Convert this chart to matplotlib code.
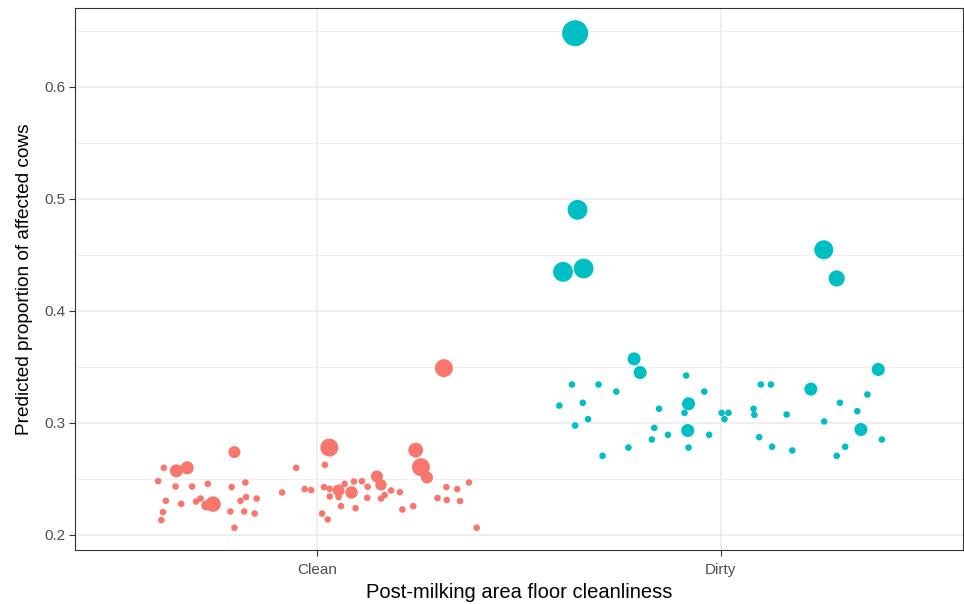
import matplotlib.pyplot as plt
import numpy as np

plt.rcParams["font.family"] = ["Liberation Sans", "DejaVu Sans"]

categories = ["Clean", "Dirty"]
colors = {"Clean": "#F8766D", "Dirty": "#00BFC4"}

# jittered horizontal offset from the category centre, predicted proportion, herd weight
clean_jitter = [-0.205, -0.380, -0.349, -0.322, -0.052, -0.394, -0.351, -0.310, -0.271,
                -0.212, -0.178, -0.375, -0.337, -0.300, -0.289, -0.275, -0.258, -0.190,
                -0.176, -0.150, -0.087, -0.031, -0.015, -0.382, -0.386, -0.215, -0.181,
                -0.155, -0.205,
                0.314, 0.030, 0.019, 0.244, 0.257, 0.272, 0.017, 0.031, 0.053, 0.068,
                0.031, 0.053, 0.091, 0.111, 0.085, 0.125, 0.148, 0.158, 0.183, 0.167,
                0.158, 0.124, 0.205, 0.059, 0.095, 0.012, 0.026, 0.211, 0.238, 0.320,
                0.347, 0.376, 0.298, 0.321, 0.354, 0.395]
clean_prop = [0.2738, 0.2598, 0.2571, 0.2598, 0.2598, 0.2479, 0.2431, 0.2431, 0.2455,
              0.2426, 0.2467, 0.2304, 0.2277, 0.2297, 0.2324, 0.2262, 0.2274, 0.2304,
              0.2337, 0.2324, 0.2378, 0.2408, 0.2399, 0.2203, 0.2131, 0.2208, 0.2208,
              0.2190, 0.2063,
              0.3488, 0.2779, 0.2625, 0.2756, 0.2604, 0.2512, 0.2426, 0.2411, 0.2396,
              0.2455, 0.2342, 0.2337, 0.2476, 0.2479, 0.2378, 0.2429, 0.2521, 0.2446,
              0.2396, 0.2354, 0.2324, 0.2330, 0.2381, 0.2256, 0.2238, 0.2190, 0.2137,
              0.2226, 0.2256, 0.2426, 0.2408, 0.2467, 0.2328, 0.2310, 0.2301, 0.2063]
clean_weight = [3.3, 1, 3.9, 3.9, 1, 1, 1, 1, 1,
                1, 1, 1, 1, 1, 1, 2.3, 5.5, 1,
                1, 1, 1, 1, 1, 1, 1, 1, 1,
                1, 1,
                7.4, 7.4, 1, 5.0, 7.4, 3.3, 1, 1, 3.3, 1,
                1, 1, 1, 1, 3.6, 1, 3.3, 3.0,
                1, 1, 1, 1, 1, 1, 1, 1, 1,
                1, 1, 1, 1, 1, 1, 1, 1, 1]

dirty_jitter = [-0.361, -0.355, -0.391, -0.340, -0.215, -0.200, -0.086, -0.369, -0.303,
                -0.259, -0.041, -0.400, -0.342, -0.080, -0.153, -0.090, 0.002, 0.019,
                0.009, 0.081, 0.083, 0.099, -0.329, -0.361, -0.165, -0.082, -0.131,
                -0.029, -0.171, -0.229, -0.080, -0.293, 0.095, 0.255, 0.287, 0.390,
                0.124, 0.223, 0.363, 0.295, 0.163, 0.338, 0.256, 0.347, 0.399, 0.127,
                0.177, 0.308, 0.287]
dirty_prop = [0.6479, 0.4902, 0.4348, 0.4378, 0.3571, 0.3449, 0.3422, 0.3342, 0.3342,
              0.3279, 0.3279, 0.3154, 0.3179, 0.3170, 0.3125, 0.3089, 0.3089, 0.3089,
              0.3033, 0.3125, 0.3071, 0.3342, 0.3033, 0.2976, 0.2955, 0.2931, 0.2893,
              0.2893, 0.2851, 0.2779, 0.2779, 0.2705, 0.2872, 0.4545, 0.4289, 0.3476,
              0.3342, 0.3301, 0.3253, 0.3179, 0.3074, 0.3104, 0.3012, 0.2940, 0.2851,
              0.2786, 0.2753, 0.2786, 0.2705]
dirty_weight = [15.5, 9.0, 9.0, 9.0, 3.9, 3.9, 1, 1, 1,
                1, 1, 1, 1, 3.9, 1, 1, 1, 1,
                1, 1, 1, 1, 1, 1, 1, 3.9, 1,
                1, 1, 1, 1, 1, 1, 8.3, 6.0, 3.9,
                1, 3.9, 1, 1, 1, 1, 1, 3.9, 1,
                1, 1, 1, 1]

groups = {
    "Clean": (clean_jitter, clean_prop, clean_weight),
    "Dirty": (dirty_jitter, dirty_prop, dirty_weight),
}

fig = plt.figure(figsize=(9.64, 6.04), dpi=100)
ax = fig.add_axes([0.0778, 0.0894, 0.9212, 0.8974])

for i, cat in enumerate(categories, start=1):
    jit, prop, w = groups[cat]
    x = i + np.array(jit)
    ax.scatter(x, prop, s=22.6 * np.array(w), color=colors[cat],
               linewidths=0, zorder=3)

# ggplot-style expansion around the data range
all_y = np.array(clean_prop + dirty_prop)
span = all_y.max() - all_y.min()
ax.set_ylim(all_y.min() - 0.045 * span, all_y.max() + 0.051 * span)
ax.set_xlim(0.4, 2.6)

ax.set_xticks([1, 2])
ax.set_xticklabels(categories)
ax.set_yticks([0.2, 0.3, 0.4, 0.5, 0.6])
ax.set_yticklabels(["0.2", "0.3", "0.4", "0.5", "0.6"])
ax.set_yticks([0.25, 0.35, 0.45, 0.55, 0.65], minor=True)

ax.grid(True, which="major", color="#EBEBEB", linewidth=1.1, zorder=0)
ax.grid(True, which="minor", axis="y", color="#EBEBEB", linewidth=0.55, zorder=0)
ax.set_axisbelow(True)

for spine in ax.spines.values():
    spine.set_color("#333333")
    spine.set_linewidth(0.8)

ax.tick_params(axis="both", which="major", colors="#333333", length=4,
               width=0.8, labelsize=11, labelcolor="#4D4D4D", pad=3)
ax.tick_params(axis="x", which="major", pad=5)
ax.tick_params(axis="both", which="minor", length=0)

ax.set_xlabel("Post-milking area floor cleanliness", fontsize=14.5, labelpad=5)
ax.set_ylabel("Predicted proportion of affected cows", fontsize=13.7, labelpad=8)

fig.savefig("out.png", dpi=100, facecolor="white")
